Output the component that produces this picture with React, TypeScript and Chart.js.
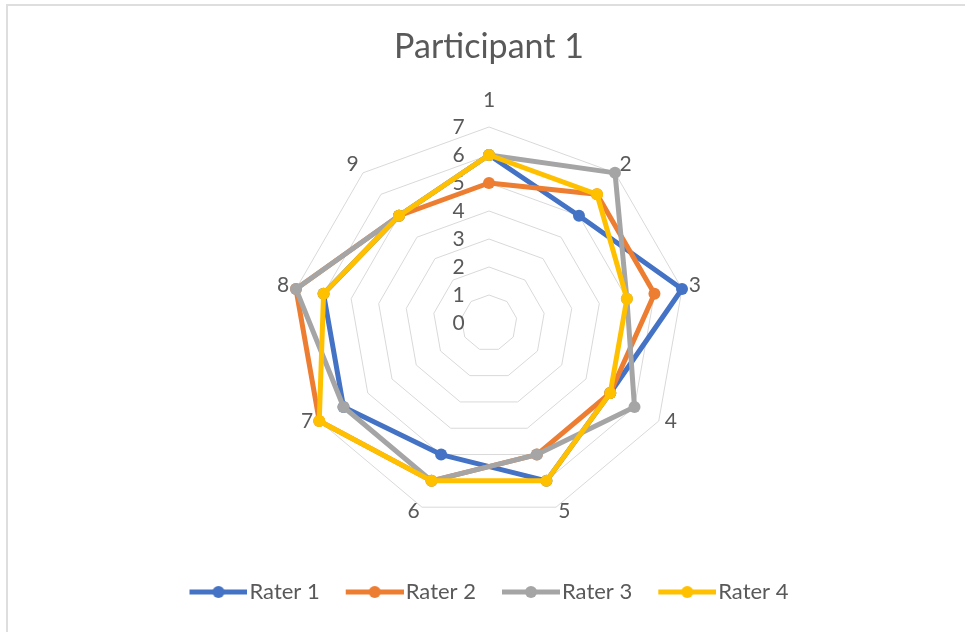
import React, { useEffect, useRef } from 'react';
import { Chart, registerables } from 'chart.js';

Chart.register(...registerables);

const categories = ['1', '2', '3', '4', '5', '6', '7', '8', '9'];
const seriesNames = ['Rater 1', 'Rater 2', 'Rater 3', 'Rater 4'];
const rater1 = [6, 5, 7, 5, 6, 5, 6, 6, 5];
const rater2 = [5, 6, 6, 5, 5, 6, 7, 7, 5];
const rater3 = [6, 7, 5, 6, 5, 6, 6, 7, 5];
const rater4 = [6, 6, 5, 5, 6, 6, 7, 6, 5];
const tickValues = [0, 1, 2, 3, 4, 5, 6, 7];
const titleText = 'Participant 1';

const seriesColors = ['#4472C4', '#ED7D31', '#A5A5A5', '#FFC000'];
const FONT = 'Lato, "Noto Sans", sans-serif';
const TEXT = '#595959';

function makeLegendIcon(color: string): HTMLCanvasElement {
  const c = document.createElement('canvas');
  c.width = 67;
  c.height = 14;
  const g = c.getContext('2d')!;
  g.strokeStyle = color;
  g.lineWidth = 5;
  g.beginPath();
  g.moveTo(9, 7);
  g.lineTo(67, 7);
  g.stroke();
  g.fillStyle = color;
  g.beginPath();
  g.arc(38, 7, 6, 0, Math.PI * 2);
  g.fill();
  return c;
}

const radarTextPlugin = {
  id: 'radarText',
  beforeDatasetsDraw(chart: any) {
    const s = chart.scales.r;
    const ctx = chart.ctx as CanvasRenderingContext2D;
    ctx.save();
    ctx.font = `21px ${FONT}`;
    ctx.fillStyle = TEXT;
    ctx.textAlign = 'center';
    ctx.textBaseline = 'middle';
    tickValues.forEach((v) => {
      const d = s.getDistanceFromCenterForValue(v);
      ctx.fillText(String(v), s.xCenter - 30.5, s.yCenter - d);
    });
    categories.forEach((c, i) => {
      const a = s.getIndexAngle(i) - Math.PI / 2;
      const cos = Math.cos(a);
      let p;
      let dx = 0;
      let dy = 0;
      if (Math.abs(cos) < 0.01) {
        p = s.getPointPosition(i, s.drawingArea + 27);
      } else {
        p = s.getPointPosition(i, s.drawingArea + 7);
        dx = Math.sign(cos) * 6;
        dy = -3;
      }
      ctx.fillText(c, p.x + dx, p.y + dy);
    });
    ctx.restore();
  },
};

export default function App() {
  const ref = useRef<HTMLCanvasElement>(null);

  useEffect(() => {
    if (!ref.current) return;
    const icons = seriesColors.map(makeLegendIcon);
    const values = [rater1, rater2, rater3, rater4];
    const chart = new Chart(ref.current, {
      type: 'radar',
      data: {
        labels: categories,
        datasets: seriesNames.map((name, i) => ({
          label: name,
          data: values[i],
          borderColor: seriesColors[i],
          backgroundColor: seriesColors[i],
          pointBackgroundColor: seriesColors[i],
          pointBorderColor: seriesColors[i],
          borderWidth: 5,
          borderJoinStyle: 'round',
          pointRadius: 6,
          pointBorderWidth: 0,
          pointHoverRadius: 6,
          fill: false,
          order: seriesNames.length - i,
        })),
      },
      options: {
        responsive: false,
        animation: false,
        devicePixelRatio: 1,
        events: [],
        layout: { padding: { left: 20, right: 7, top: 0, bottom: 19 } },
        elements: {
          line: { tension: 0 },
        },
        scales: {
          r: {
            min: 0,
            max: 7,
            ticks: { display: false, stepSize: 1 },
            pointLabels: { display: false },
            angleLines: { display: false },
            grid: { color: '#D9D9D9', lineWidth: 1 },
          },
        },
        plugins: {
          title: {
            display: true,
            text: titleText,
            color: TEXT,
            font: { family: FONT, size: 34, weight: 'normal', lineHeight: 1.2 },
            padding: { top: 27, bottom: 59.2 },
          },
          legend: {
            display: true,
            position: 'bottom',
            title: {
              display: true,
              text: '',
              padding: { top: 10, bottom: 10 },
              font: { size: 16, lineHeight: 1 },
            },
            labels: {
              usePointStyle: true,
              pointStyleWidth: 49,
              padding: 26,
              color: TEXT,
              font: { family: FONT, size: 22 },
              sort: (a: any, b: any) => a.datasetIndex - b.datasetIndex,
              generateLabels: (c: any) =>
                Chart.defaults.plugins.legend.labels
                  .generateLabels(c)
                  .map((l: any) => ({ ...l, pointStyle: icons[l.datasetIndex] })),
            },
          },
          tooltip: { enabled: false },
        },
      } as any,
      plugins: [radarTextPlugin],
    });
    return () => chart.destroy();
  }, []);

  return (
    <div style={{ position: 'fixed', left: 0, top: 0, width: 965, height: 632, background: '#fff', overflow: 'hidden' }}>
      <canvas ref={ref} width={965} height={632} style={{ position: 'absolute', left: 0, top: 0, display: 'block' }} />
      <div
        style={{
          position: 'absolute',
          left: 6,
          top: 4,
          width: 1000,
          height: 700,
          border: '2px solid #DEDEDE',
          pointerEvents: 'none',
        }}
      />
    </div>
  );
}
